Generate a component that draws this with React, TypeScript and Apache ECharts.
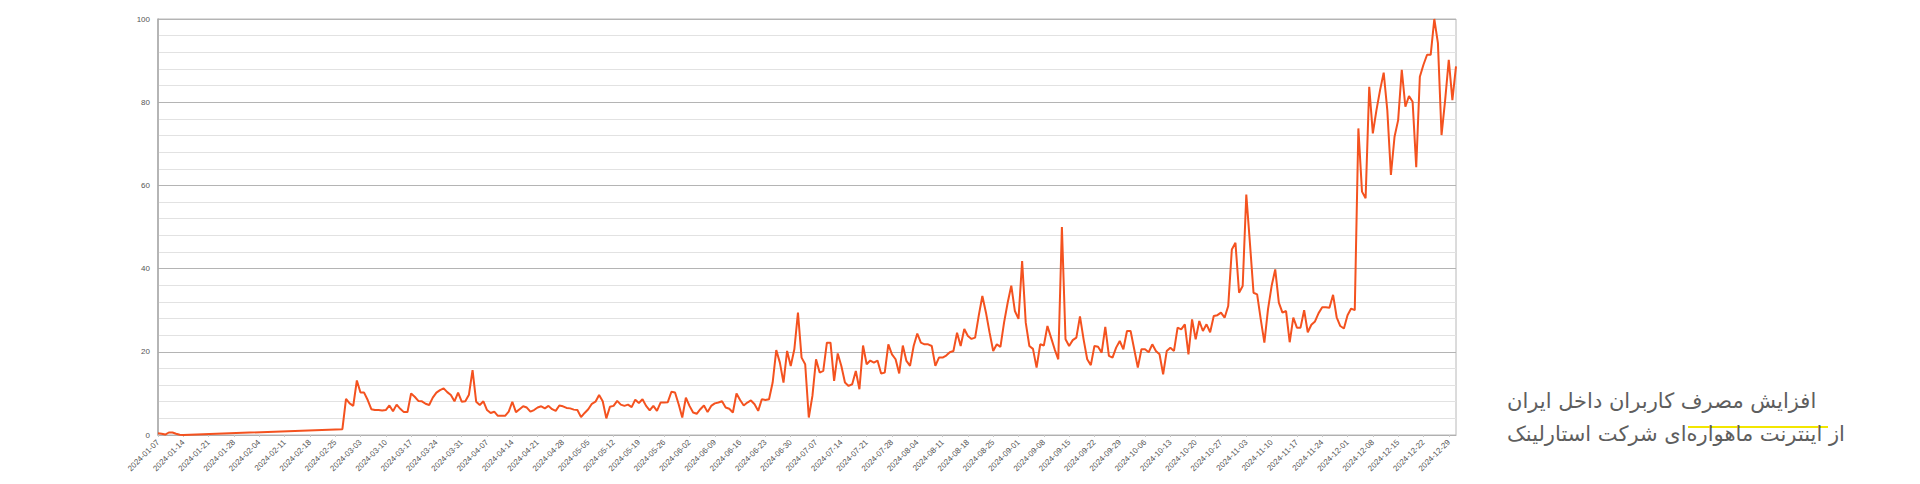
import React, { useEffect, useRef } from "react";
import * as echarts from "echarts";

// Daily categories from 2024-01-07 to 2024-12-31
const startDate = "2024-01-07";
const dayCount = 360;
const categories: string[] = (() => {
  const out: string[] = [];
  const base = new Date(startDate + "T00:00:00Z");
  for (let i = 0; i < dayCount; i++) {
    const d = new Date(base.getTime() + i * 86400000);
    out.push(d.toISOString().slice(0, 10));
  }
  return out;
})();

const janValues: (number | null)[] = [0.4, 0.3, 0.1, 0.6, 0.6, 0.3, 0.05, 0.0];
// days with no data (straight connecting segment in the reference)
const gapLength = 43;
const mainValues: number[] = [
  1.4, 8.7, 7.6, 7.0, 13.1, 10.2, 10.2, 8.4, 6.2, 6.0,
  6.0, 5.9, 6.0, 7.1, 5.7, 7.3, 6.3, 5.5, 5.5, 10.0,
  9.2, 8.2, 8.1, 7.5, 7.2, 9.0, 10.2, 10.8, 11.2, 10.3,
  9.6, 8.1, 10.2, 8.0, 8.1, 9.7, 15.6, 8.0, 7.2, 8.1,
  6.0, 5.3, 5.6, 4.6, 4.6, 4.6, 5.6, 8.0, 5.5, 6.2,
  6.9, 6.6, 5.6, 6.0, 6.6, 6.9, 6.4, 7.0, 6.2, 5.8,
  7.1, 6.9, 6.5, 6.4, 6.1, 6.0, 4.3, 5.3, 6.2, 7.5,
  8.0, 9.6, 8.1, 4.0, 6.8, 7.0, 8.2, 7.3, 7.0, 7.3,
  6.7, 8.5, 7.7, 8.6, 7.0, 5.9, 7.0, 5.8, 7.8, 7.8,
  7.9, 10.4, 10.2, 7.4, 4.2, 9.0, 7.0, 5.4, 5.1, 6.2,
  7.1, 5.5, 7.0, 7.6, 7.8, 8.1, 6.6, 6.3, 5.4, 10.0,
  8.4, 7.1, 7.8, 8.3, 7.4, 5.8, 8.6, 8.4, 8.6, 12.6,
  20.4, 17.4, 12.6, 20.2, 16.6, 20.6, 29.4, 18.6, 17.0, 4.2,
  9.4, 18.2, 15.0, 15.4, 22.2, 22.2, 13.0, 19.6, 16.6, 12.6,
  11.8, 12.2, 15.4, 11.0, 21.5, 17.0, 17.9, 17.4, 17.9, 14.8,
  15.0, 21.8, 19.4, 18.2, 14.8, 21.5, 17.8, 16.6, 21.4, 24.4,
  22.2, 21.8, 21.8, 21.4, 16.6, 18.6, 18.6, 19.1, 19.9, 20.2,
  24.6, 21.4, 25.5, 23.8, 23.1, 23.4, 28.7, 33.4, 29.4, 24.6,
  20.2, 21.8, 21.2, 27.0, 31.8, 35.9, 29.8, 27.9, 41.8, 27.0,
  21.4, 20.7, 16.2, 21.8, 21.5, 26.2, 23.4, 20.6, 18.2, 50.0,
  23.0, 21.4, 22.8, 23.4, 28.5, 23.0, 18.2, 16.8, 21.4, 21.2,
  19.8, 26.0, 19.0, 18.6, 21.0, 22.6, 20.6, 25.0, 25.0, 20.6,
  16.2, 20.6, 20.6, 19.9, 21.8, 20.2, 19.4, 14.6, 20.2, 21.0,
  20.2, 25.8, 25.4, 26.6, 19.4, 27.8, 23.0, 27.4, 25.0, 26.6,
  24.7, 28.6, 28.8, 29.4, 28.2, 31.0, 44.6, 46.2, 34.2, 35.8,
  57.8, 46.2, 34.2, 33.8, 27.8, 22.2, 30.2, 35.8, 39.8, 31.8,
  29.4, 29.8, 22.3, 28.2, 25.8, 25.8, 30.0, 24.7, 26.5, 27.3,
  29.3, 30.7, 30.7, 30.6, 33.7, 28.3, 26.2, 25.6, 28.8, 30.4,
  30.0, 73.7, 58.5, 56.9, 83.7, 72.5, 78.1, 82.9, 87.1, 78.1,
  62.5, 71.7, 75.7, 87.8, 78.9, 81.5, 80.1, 64.4, 86.1, 89.0,
  91.4, 91.4, 100, 94.2, 72.1, 80.5, 90.2, 80.5, 88.6,
];
const seriesValues: (number | null)[] = [
  ...janValues,
  ...new Array(gapLength).fill(null),
  ...mainValues,
];

const yTickLabels = [0, 20, 40, 60, 80, 100];
const titleLines = [
  "افزایش مصرف کاربران داخل ایران",
  "از اینترنت ماهواره‌ای شرکت استارلینک",
];

export default function App() {
  const ref = useRef<HTMLDivElement>(null);
  useEffect(() => {
    if (!ref.current) return;
    const chart = echarts.init(ref.current, undefined, { renderer: "svg" });
    chart.setOption({
      animation: false,
      backgroundColor: "#ffffff",
      grid: {
        left: 158,
        right: 464,
        top: 19,
        bottom: 49,
        show: true,
        borderColor: "#b8b8b8",
        borderWidth: 1,
        backgroundColor: "transparent",
      },
      xAxis: {
        type: "category",
        data: categories,
        boundaryGap: false,
        axisLine: { show: true, lineStyle: { color: "#b0b0b0", width: 1 } },
        axisTick: {
          show: true,
          interval: 6,
          length: 2,
          lineStyle: { color: "#c8c8c8" },
        },
        axisLabel: {
          interval: 6,
          rotate: 45,
          fontSize: 8,
          color: "#555",
          margin: 6,
          fontFamily: "Liberation Sans, Arial, sans-serif",
        },
        splitLine: { show: false },
      },
      yAxis: {
        type: "value",
        min: 0,
        max: 100,
        interval: 4,
        axisLine: { show: true, lineStyle: { color: "#a8a8a8", width: 1.5 } },
        axisTick: { show: false },
        axisLabel: {
          fontSize: 8,
          color: "#555",
          margin: 8,
          fontFamily: "Liberation Sans, Arial, sans-serif",
          formatter: (v: number) => (yTickLabels.includes(v) ? String(v) : ""),
        },
        splitLine: {
          show: true,
          lineStyle: {
            color: ["#b4b4b4", "#e2e2e2", "#e2e2e2", "#e2e2e2", "#e2e2e2"],
            width: 1.2,
          },
        },
      },
      series: [
        {
          type: "line",
          data: seriesValues,
          connectNulls: true,
          symbol: "none",
          lineStyle: { color: "#f4521f", width: 2 },
          itemStyle: { color: "#f4521f" },
        },
      ],
      graphic: [
        {
          type: "text",
          left: 1507,
          top: 390,
          style: {
            text: titleLines[0],
            fontSize: 21,
            fill: "#5e5e5e",
            fontFamily: "DejaVu Sans, sans-serif",
          },
        },
        {
          type: "text",
          left: 1507,
          top: 423,
          style: {
            text: titleLines[1],
            fontSize: 21,
            fill: "#5e5e5e",
            fontFamily: "DejaVu Sans, sans-serif",
          },
        },
        {
          type: "line",
          shape: { x1: 1688, y1: 427, x2: 1828, y2: 427 },
          style: { stroke: "#f2e600", lineWidth: 2 },
          z: -1,
        },
      ],
    });
    return () => chart.dispose();
  }, []);
  return (
    <div
      ref={ref}
      style={{ position: "absolute", left: 0, top: 0, width: 1920, height: 484 }}
    />
  );
}
